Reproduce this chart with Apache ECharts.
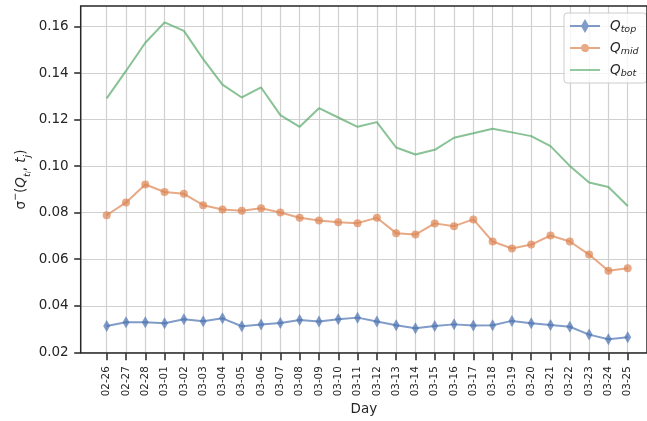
<!DOCTYPE html>
<html>
<head>
<meta charset="utf-8">
<script src="https://cdn.jsdelivr.net/npm/echarts@6/dist/echarts.min.js"></script>
<style>html,body{margin:0;padding:0;background:#fff}#c{width:647px;height:421px}</style>
</head>
<body>
<div id="c"></div>
<script>
const days = ['02-26','02-27','02-28','03-01','03-02','03-03','03-04','03-05','03-06','03-07','03-08','03-09','03-10','03-11','03-12','03-13','03-14','03-15','03-16','03-17','03-18','03-19','03-20','03-21','03-22','03-23','03-24','03-25'];
const qTop = [0.0313,0.0329,0.0329,0.0325,0.0342,0.0333,0.0346,0.0312,0.0319,0.0326,0.0339,0.0332,0.0342,0.0349,0.0332,0.0316,0.0303,0.0313,0.0320,0.0315,0.0316,0.0335,0.0325,0.0317,0.0310,0.0276,0.0256,0.0265];
const qMid = [0.0789,0.0844,0.0921,0.0889,0.0881,0.0832,0.0814,0.0808,0.0819,0.0801,0.0778,0.0766,0.0759,0.0755,0.0778,0.0712,0.0706,0.0754,0.0742,0.0771,0.0676,0.0646,0.0663,0.0702,0.0676,0.0620,0.0550,0.0561];
const qBot = [0.1291,0.1409,0.1530,0.1618,0.1581,0.1460,0.1350,0.1295,0.1338,0.1219,0.1169,0.1249,0.1209,0.1169,0.1189,0.1080,0.1050,0.1070,0.1122,0.1141,0.1161,0.1145,0.1129,0.1086,0.1001,0.0930,0.0910,0.0829];
const yTicks = {min: 0.02, max: 0.16, step: 0.02};
const seriesNames = ['Q_top', 'Q_mid', 'Q_bot'];

const FONT = 'DejaVu Sans';
const INK = '#262626';
const chart = echarts.init(document.getElementById('c'), null, {renderer: 'canvas'});

const legendRich = {
  q: {fontFamily: FONT, fontStyle: 'italic', fontSize: 13.5, lineHeight: 18, color: INK, padding: [0, 0, 0, 5]},
  s: {fontFamily: FONT, fontStyle: 'italic', fontSize: 9.5, lineHeight: 11, verticalAlign: 'bottom', color: INK}
};
const titleRich = {
  n: {fontFamily: FONT, fontSize: 13.5, lineHeight: 22, color: INK},
  i: {fontFamily: FONT, fontSize: 13.5, fontStyle: 'italic', lineHeight: 22, color: INK},
  sup: {fontFamily: FONT, fontSize: 9.5, lineHeight: 12, verticalAlign: 'top', color: INK},
  sub: {fontFamily: FONT, fontSize: 9.5, fontStyle: 'italic', lineHeight: 13, verticalAlign: 'bottom', color: INK},
  subsub: {fontFamily: FONT, fontSize: 7, fontStyle: 'italic', lineHeight: 9, verticalAlign: 'bottom', color: INK}
};

const colors = ['#4C72B0', '#DD8452', '#55A868'];
const symbols = ['diamond', 'circle', 'none'];
const symSizes = [[7, 12], 8, 0];
const datasets = [qTop, qMid, qBot];
// legend glyphs: line + marker
const legendIcons = [
  'path://M0,6.1L11.5,6.1L15,0L18.5,6.1L30,6.1L30,7.9L18.5,7.9L15,14L11.5,7.9L0,7.9Z',
  'path://M0,3.1L11.1,3.1A4,4 0 0 1 18.9,3.1L30,3.1L30,4.9L18.9,4.9A4,4 0 0 1 11.1,4.9L0,4.9Z',
  'path://M0,0L30,0L30,1.8L0,1.8Z'
];

const option = {
  animation: false,
  legend: {
    orient: 'vertical', left: 564, top: 13,
    padding: [6, 8, 4, 6], itemGap: 6, itemWidth: 30, itemHeight: 14,
    backgroundColor: 'rgba(255,255,255,0.8)', borderColor: '#cccccc', borderWidth: 1, borderRadius: 3,
    data: seriesNames.map((nm, k) => ({name: nm, icon: legendIcons[k], itemStyle: {color: colors[k], opacity: 0.7}})),
    formatter: function (name) { const p = name.split('_'); return '{q|' + p[0] + '}{s|' + p[1] + '}'; },
    textStyle: {rich: legendRich}
  },
  grid: [
    {left: 106.7, right: 19.3, top: 26.5, bottom: 68.7},
    {left: 80.7, right: -7, top: 26.5, bottom: 68.7},
    {left: 106.7, right: 19.3, top: 6, bottom: 67.7},
    {left: 80.7, right: -7, top: 6, bottom: 67.7, show: true, borderColor: INK, borderWidth: 1.5, backgroundColor: 'transparent', z: 5}
  ],
  xAxis: [
    {gridIndex: 0, type: 'category', data: days, boundaryGap: false, show: false},
    {gridIndex: 1, type: 'value', show: false},
    {gridIndex: 2, type: 'category', data: days, boundaryGap: false,
     axisLine: {show: false},
     axisTick: {show: true, length: 7, lineStyle: {color: INK, width: 1.5}, alignWithLabel: true},
     splitLine: {show: true, lineStyle: {color: '#d0d0d0', width: 1.2}},
     axisLabel: {rotate: 90, margin: 13, fontFamily: FONT, fontSize: 10.3, color: INK, interval: 0}},
    {gridIndex: 3, type: 'value', min: 0, max: 1,
     axisLine: {show: false}, axisTick: {show: false}, axisLabel: {show: false}, splitLine: {show: false},
     name: 'Day', nameLocation: 'middle', nameGap: 49,
     nameTextStyle: {fontFamily: FONT, fontSize: 13.5, color: INK}}
  ],
  yAxis: [
    {gridIndex: 0, type: 'value', min: yTicks.min, max: yTicks.max, show: false},
    {gridIndex: 1, type: 'value', min: yTicks.min, max: yTicks.max, interval: yTicks.step,
     axisLine: {show: false},
     axisTick: {show: true, length: 6.5, lineStyle: {color: INK, width: 1.5}},
     splitLine: {show: true, lineStyle: {color: '#d0d0d0', width: 1.2}},
     axisLabel: {margin: 12, fontFamily: FONT, fontSize: 13.5, color: INK,
                 formatter: v => v.toFixed(2)}},
    {gridIndex: 2, type: 'value', min: 0, max: 1, show: false},
    {gridIndex: 3, type: 'value', min: 0, max: 1,
     axisLine: {show: false}, axisTick: {show: false}, axisLabel: {show: false}, splitLine: {show: false},
     name: '{n|σ}{sup|−}{n|(}{i|Q}{sub|t}{subsub|i}{n|, }{i|t}{sub|j}{n|)}',
     nameLocation: 'middle', nameGap: 48,
     nameTextStyle: {rich: titleRich}}
  ],
  series: seriesNames.map((nm, k) => ({
    name: nm, type: 'line', xAxisIndex: 0, yAxisIndex: 0, data: datasets[k],
    symbol: symbols[k], symbolSize: symSizes[k], showSymbol: symbols[k] !== 'none',
    clip: false, z: 3 + k,
    lineStyle: {color: colors[k], width: 2, opacity: 0.7},
    itemStyle: {color: colors[k], opacity: 0.7, borderWidth: 0}
  }))
};
chart.setOption(option);
</script>
</body>
</html>
